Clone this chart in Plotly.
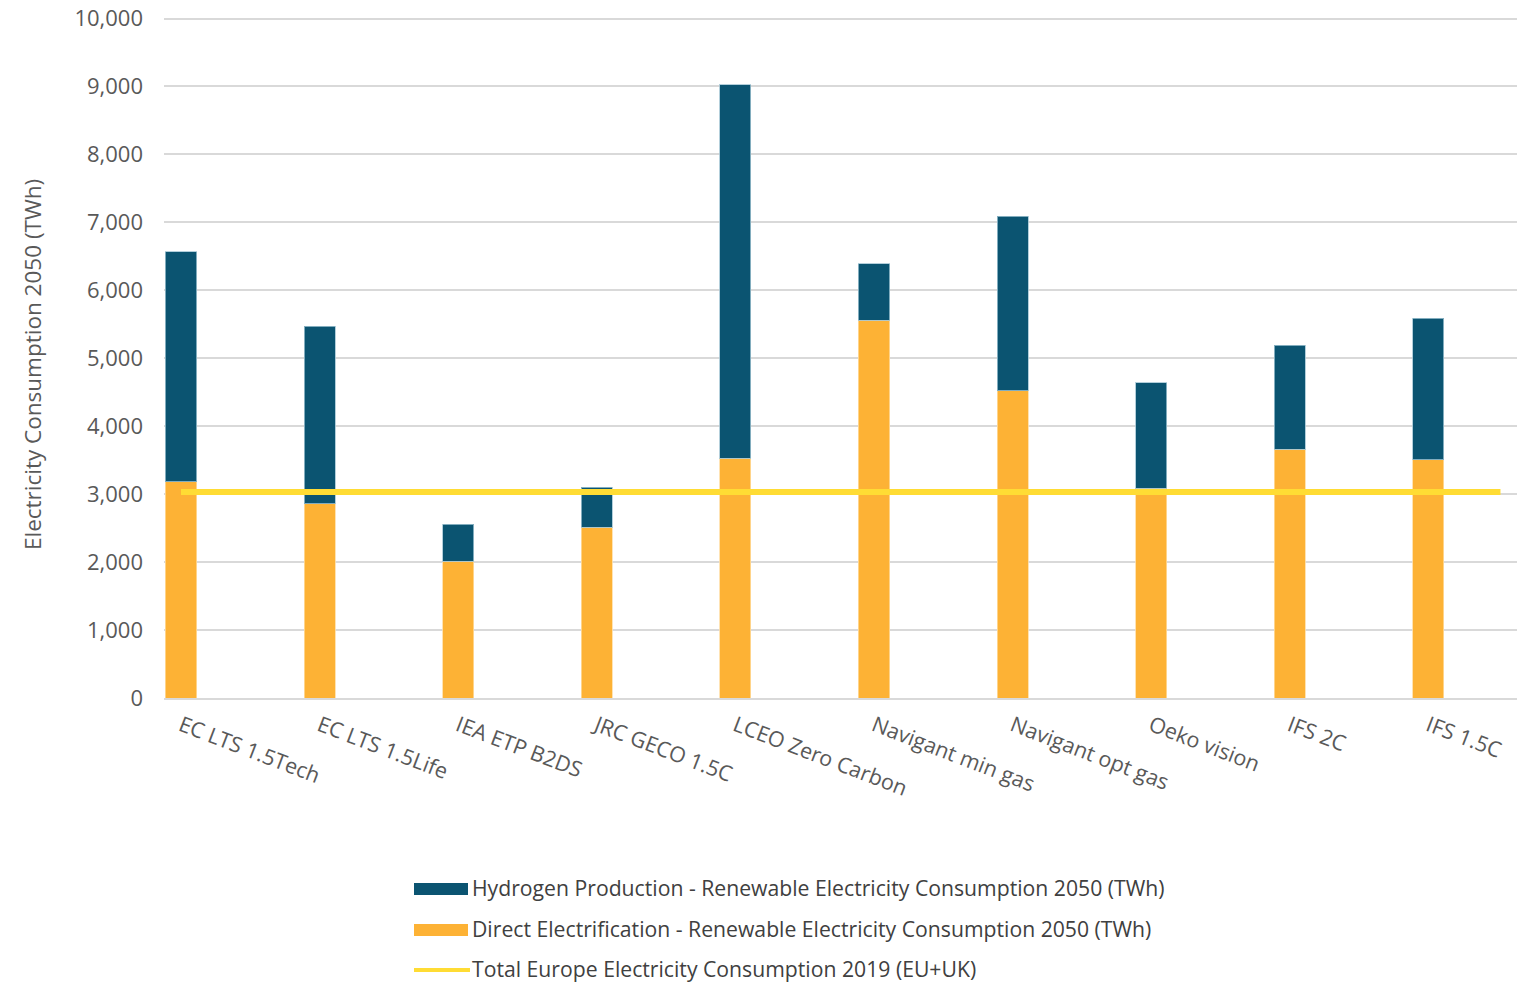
import plotly.graph_objects as go

categories = ["EC LTS 1.5Tech", "EC LTS 1.5Life", "IEA ETP B2DS", "JRC GECO 1.5C",
              "LCEO Zero Carbon", "Navigant min gas", "Navigant opt gas", "Oeko vision",
              "IFS 2C", "IFS 1.5C"]
direct = [3180, 2860, 2010, 2510, 3530, 5560, 4520, 3085, 3660, 3510]
hydrogen_total = [6570, 5470, 2560, 3100, 9025, 6390, 7090, 4640, 5190, 5590]
hydrogen = [t - d for t, d in zip(hydrogen_total, direct)]
total_2019 = 3030
yticks = [0, 1000, 2000, 3000, 4000, 5000, 6000, 7000, 8000, 9000, 10000]

names = ["Hydrogen Production - Renewable Electricity Consumption 2050 (TWh)",
         "Direct Electrification - Renewable Electricity Consumption 2050 (TWh)",
         "Total Europe Electricity Consumption 2019 (EU+UK)"]

C_H2 = "#0B5471"
C_DIR = "#FDB235"
C_LINE = "#FFDC34"
FONT = "Open Sans"
TXT = "#595959"

W, H = 1526, 983
L, R, T, B = 164, 9, 16, 285
pw, ph = W - L - R, H - T - B
YMAX = 10000 * ph / (ph - 2.5)

xs = list(range(len(categories)))
line_end = len(categories) - 1 + 0.52

fig = go.Figure()
fig.add_trace(go.Bar(x=xs, y=direct, name=names[1], marker_color=C_DIR,
                     marker_line=dict(color="rgba(255,220,160,0.8)", width=1), width=0.225))
fig.add_trace(go.Bar(x=xs, y=hydrogen, name=names[0], marker_color=C_H2,
                     marker_line=dict(color="rgba(160,195,210,0.8)", width=1), width=0.225))
fig.add_trace(go.Scatter(x=[0, line_end], y=[total_2019, total_2019], mode="lines",
                         name=names[2], line=dict(color=C_LINE, width=6)))

fig.update_layout(
    width=W, height=H, barmode="stack", showlegend=False,
    margin=dict(l=L, r=R, t=T, b=B),
    paper_bgcolor="white", plot_bgcolor="white",
    font=dict(family=FONT, color=TXT, size=19),
)
fig.update_xaxes(range=[-(181 - L) / 138.6, -(181 - L) / 138.6 + pw / 138.6],
                 tickmode="array", tickvals=xs, ticktext=categories, tickangle=21,
                 showgrid=False, zeroline=False, showline=True, linecolor="#D9D9D9",
                 linewidth=2, ticks="", ticklabelstandoff=5, automargin=False,
                 tickfont=dict(size=21.5, color=TXT))
fig.update_yaxes(range=[0, YMAX], tickmode="array", tickvals=yticks,
                 ticktext=[f"{v:,}" for v in yticks], showgrid=True,
                 gridcolor="#D9D9D9", gridwidth=2, zeroline=False, showline=False,
                 ticks="", ticklabelstandoff=20, automargin=False,
                 tickfont=dict(size=22, color=TXT))

def py(p):
    return (H - B - p) / ph

def px(p):
    return (p - L) / pw

# y-axis title
fig.add_annotation(text="Electricity Consumption 2050 (TWh)", xref="paper", yref="paper",
                   x=px(32), y=py(365), textangle=-90, showarrow=False,
                   font=dict(size=22.5, color=TXT), xanchor="center", yanchor="middle")

# custom legend
rows = [(889, C_H2, "rect", names[0]), (930, C_DIR, "rect", names[1]),
        (970, C_LINE, "line", names[2])]
for yc, col, kind, txt in rows:
    if kind == "rect":
        fig.add_shape(type="rect", xref="paper", yref="paper", x0=px(414), x1=px(468),
                      y0=py(yc + 6), y1=py(yc - 6), fillcolor=col, line_width=0)
    else:
        fig.add_shape(type="line", xref="paper", yref="paper", x0=px(414), x1=px(470),
                      y0=py(yc), y1=py(yc), line=dict(color=col, width=4))
    fig.add_annotation(text=txt, xref="paper", yref="paper", x=px(471), y=py(yc - 2),
                       xanchor="left", yanchor="middle", showarrow=False, borderpad=0,
                       font=dict(size=21.2, color="#404040"))

fig.write_html("out.html")
